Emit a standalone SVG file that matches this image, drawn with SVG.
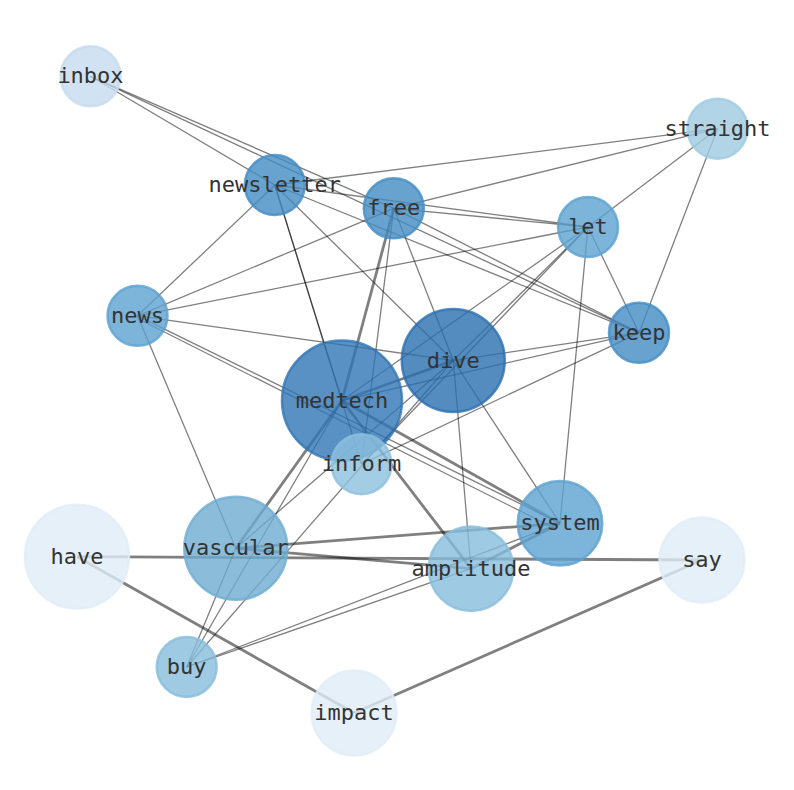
<svg xmlns="http://www.w3.org/2000/svg" width="794" height="790" viewBox="0 0 794 790">
<style>
.e{stroke:#000;stroke-opacity:0.5;stroke-width:1.3;fill:none}
.t{stroke-width:2.8}
.n{stroke-width:2.5;fill-opacity:0.8;stroke-opacity:0.8}
.l{font-family:"DejaVu Sans Mono",monospace;font-size:22px;fill:#333;text-anchor:middle}
</style>
<rect width="794" height="790" fill="#fff"/>
<g id="connectors">
<line class="e" x1="90.5" y1="76.3" x2="274.8" y2="185"/>
<line class="e" x1="90.5" y1="76.3" x2="393.8" y2="208.3"/>
<line class="e" x1="90.5" y1="76.3" x2="639" y2="332.8"/>
<line class="e" x1="274.8" y1="185" x2="717.5" y2="128.7"/>
<line class="e" x1="274.8" y1="185" x2="588" y2="227"/>
<line class="e" x1="274.8" y1="185" x2="639" y2="332.8"/>
<line class="e" x1="274.8" y1="185" x2="137.5" y2="315.8"/>
<line class="e" x1="274.8" y1="185" x2="453.3" y2="360.5"/>
<line class="e" x1="274.8" y1="185" x2="361.5" y2="464.2"/>
<line class="e" x1="274.8" y1="185" x2="342" y2="400.5"/>
<line class="e" x1="393.8" y1="208.3" x2="717.5" y2="128.7"/>
<line class="e" x1="393.8" y1="208.3" x2="588" y2="227"/>
<line class="e" x1="393.8" y1="208.3" x2="639" y2="332.8"/>
<line class="e" x1="393.8" y1="208.3" x2="137.5" y2="315.8"/>
<line class="e" x1="393.8" y1="208.3" x2="453.3" y2="360.5"/>
<line class="e" x1="393.8" y1="208.3" x2="361.5" y2="464.2"/>
<line class="e t" x1="393.8" y1="208.3" x2="342" y2="400.5"/>
<line class="e" x1="588" y1="227" x2="717.5" y2="128.7"/>
<line class="e" x1="588" y1="227" x2="639" y2="332.8"/>
<line class="e" x1="588" y1="227" x2="560" y2="523.3"/>
<line class="e" x1="588" y1="227" x2="137.5" y2="315.8"/>
<line class="e" x1="588" y1="227" x2="453.3" y2="360.5"/>
<line class="e" x1="588" y1="227" x2="342" y2="400.5"/>
<line class="e" x1="588" y1="227" x2="361.5" y2="464.2"/>
<line class="e" x1="717.5" y1="128.7" x2="639" y2="332.8"/>
<line class="e" x1="639" y1="332.8" x2="453.3" y2="360.5"/>
<line class="e" x1="639" y1="332.8" x2="342" y2="400.5"/>
<line class="e" x1="639" y1="332.8" x2="361.5" y2="464.2"/>
<line class="e" x1="137.5" y1="315.8" x2="453.3" y2="360.5"/>
<line class="e" x1="137.5" y1="315.8" x2="560" y2="523.3"/>
<line class="e" x1="137.5" y1="318.5" x2="556" y2="529"/>
<line class="e" x1="137.5" y1="315.8" x2="235.8" y2="548.3"/>
<line class="e t" x1="342" y1="400.5" x2="453.3" y2="360.5"/>
<line class="e t" x1="342" y1="400.5" x2="560" y2="523.3"/>
<line class="e t" x1="342" y1="400.5" x2="471" y2="568.7"/>
<line class="e t" x1="342" y1="400.5" x2="235.8" y2="548.3"/>
<line class="e" x1="342" y1="400.5" x2="186.7" y2="667"/>
<line class="e" x1="453.3" y1="360.5" x2="471" y2="568.7"/>
<line class="e" x1="453.3" y1="360.5" x2="560" y2="523.3"/>
<line class="e" x1="453.3" y1="360.5" x2="186.7" y2="667"/>
<line class="e" x1="453.3" y1="360.5" x2="235.8" y2="548.3"/>
<line class="e t" x1="235.8" y1="548.3" x2="560" y2="523.3"/>
<line class="e t" x1="235.8" y1="548.3" x2="471" y2="568.7"/>
<line class="e" x1="235.8" y1="548.3" x2="186.7" y2="667"/>
<line class="e t" x1="77" y1="556.7" x2="702" y2="560"/>
<line class="e t" x1="77" y1="556.7" x2="354" y2="713"/>
<line class="e t" x1="354" y1="713" x2="702" y2="560"/>
<line class="e t" x1="471" y1="568.7" x2="560" y2="523.3"/>
<line class="e" x1="186.7" y1="667" x2="560" y2="523.3"/>
<line class="e" x1="186.7" y1="667" x2="471" y2="568.7"/>
</g>
<g id="node-inbox"><circle class="n" cx="90.5" cy="76.3" r="30" fill="#c6dbef" stroke="#c6dbef"/><text class="l" x="90.5" y="83.3">inbox</text></g>
<g id="node-straight"><circle class="n" cx="717.5" cy="128.7" r="30" fill="#9ecae1" stroke="#9ecae1"/><text class="l" x="717.5" y="135.7">straight</text></g>
<g id="node-newsletter"><circle class="n" cx="274.8" cy="185" r="30" fill="#428cc4" stroke="#428cc4"/><text class="l" x="274.8" y="192">newsletter</text></g>
<g id="node-free"><circle class="n" cx="393.8" cy="208.3" r="30" fill="#428cc4" stroke="#428cc4"/><text class="l" x="393.8" y="215.3">free</text></g>
<g id="node-let"><circle class="n" cx="588" cy="227" r="30" fill="#5ca1cf" stroke="#5ca1cf"/><text class="l" x="588" y="234">let</text></g>
<g id="node-news"><circle class="n" cx="137.5" cy="315.8" r="30" fill="#5ca1cf" stroke="#5ca1cf"/><text class="l" x="137.5" y="322.8">news</text></g>
<g id="node-keep"><circle class="n" cx="639" cy="332.8" r="30" fill="#428cc4" stroke="#428cc4"/><text class="l" x="639" y="339.8">keep</text></g>
<g id="node-dive"><circle class="n" cx="453.3" cy="360.5" r="51.5" fill="#2a6fb0" stroke="#2a6fb0"/><text class="l" x="453.3" y="367.5">dive</text></g>
<g id="node-medtech"><circle class="n" cx="342" cy="400.5" r="60" fill="#3175b5" stroke="#3175b5"/><text class="l" x="342" y="407.5">medtech</text></g>
<g id="node-inform"><circle class="n" cx="361.5" cy="464.2" r="30" fill="#8cc0de" stroke="#8cc0de"/><text class="l" x="361.5" y="471.2">inform</text></g>
<g id="node-system"><circle class="n" cx="560" cy="523.3" r="42.3" fill="#5ca1cf" stroke="#5ca1cf"/><text class="l" x="560" y="530.3">system</text></g>
<g id="node-vascular"><circle class="n" cx="235.8" cy="548.3" r="51.5" fill="#6eacd2" stroke="#6eacd2"/><text class="l" x="235.8" y="555.3">vascular</text></g>
<g id="node-amplitude"><circle class="n" cx="471" cy="568.7" r="42.3" fill="#87bddc" stroke="#87bddc"/><text class="l" x="471" y="575.7">amplitude</text></g>
<g id="node-have"><circle class="n" cx="77" cy="556.7" r="52" fill="#e0ecf8" stroke="#e0ecf8"/><text class="l" x="77" y="563.7">have</text></g>
<g id="node-say"><circle class="n" cx="702" cy="560" r="42.5" fill="#e0ecf8" stroke="#e0ecf8"/><text class="l" x="702" y="567">say</text></g>
<g id="node-buy"><circle class="n" cx="186.7" cy="667" r="30" fill="#87bddc" stroke="#87bddc"/><text class="l" x="186.7" y="674">buy</text></g>
<g id="node-impact"><circle class="n" cx="354" cy="713" r="42.5" fill="#e0ecf8" stroke="#e0ecf8"/><text class="l" x="354" y="720">impact</text></g>
</svg>
